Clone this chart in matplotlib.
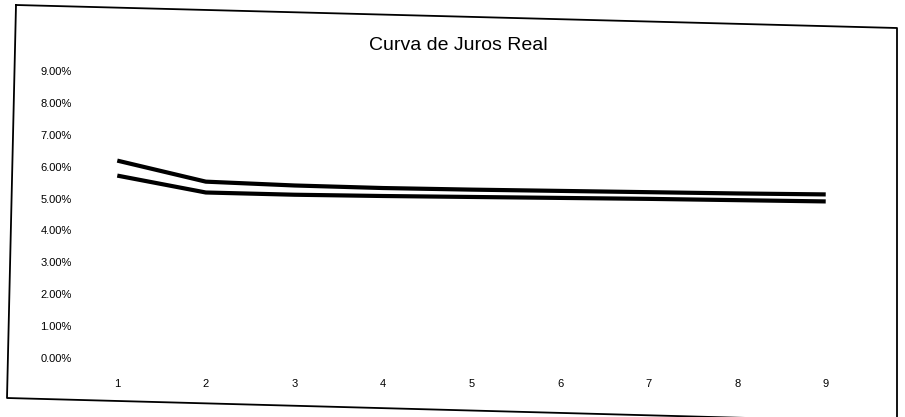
import matplotlib
matplotlib.use("Agg")
import matplotlib.pyplot as plt
from matplotlib.lines import Line2D
from matplotlib.ticker import FuncFormatter

vertices = [1, 2, 3, 4, 5, 6, 7, 8, 9]
curva_superior = [6.19, 5.53, 5.41, 5.33, 5.28, 5.24, 5.20, 5.16, 5.13]
curva_inferior = [5.72, 5.19, 5.12, 5.08, 5.05, 5.02, 4.99, 4.95, 4.91]
y_ticks = [0, 1, 2, 3, 4, 5, 6, 7, 8, 9]

W, H = 905, 417
fig = plt.figure(figsize=(W / 100, H / 100), dpi=100)
fig.patch.set_facecolor("white")

ax = fig.add_axes([73 / W, 1 - 358 / H, 797 / W, 287 / H])
ax.plot(vertices, curva_superior, color="black", lw=3.0, solid_capstyle="butt")
ax.plot(vertices, curva_inferior, color="black", lw=3.0, solid_capstyle="butt")

ax.set_xlim(0.5, 9.5)
ax.set_ylim(0, 9)
ax.set_xticks(vertices)
ax.set_yticks(y_ticks)
ax.yaxis.set_major_formatter(FuncFormatter(lambda v, _: f"{v:.2f}%"))
for s in ax.spines.values():
    s.set_visible(False)
ax.tick_params(length=0, labelsize=8, colors="black")
ax.tick_params(axis="x", pad=15)
ax.tick_params(axis="y", pad=1)
for lab in ax.get_xticklabels() + ax.get_yticklabels():
    lab.set_fontfamily("Liberation Sans")

fig.text(458 / W, 1 - 45 / H, "Curva de Juros Real", ha="center", va="center",
         fontsize=14, fontfamily="Liberation Sans")

# moldura do gráfico (levemente inclinada como no documento escaneado)
cantos = [(16, 5), (897, 28), (897, 422), (7, 398), (16, 5)]
fx = [x / W for x, _ in cantos]
fy = [1 - y / H for _, y in cantos]
fig.add_artist(Line2D(fx, fy, transform=fig.transFigure, color="black", lw=1.3))

fig.savefig("out.png", dpi=100)
